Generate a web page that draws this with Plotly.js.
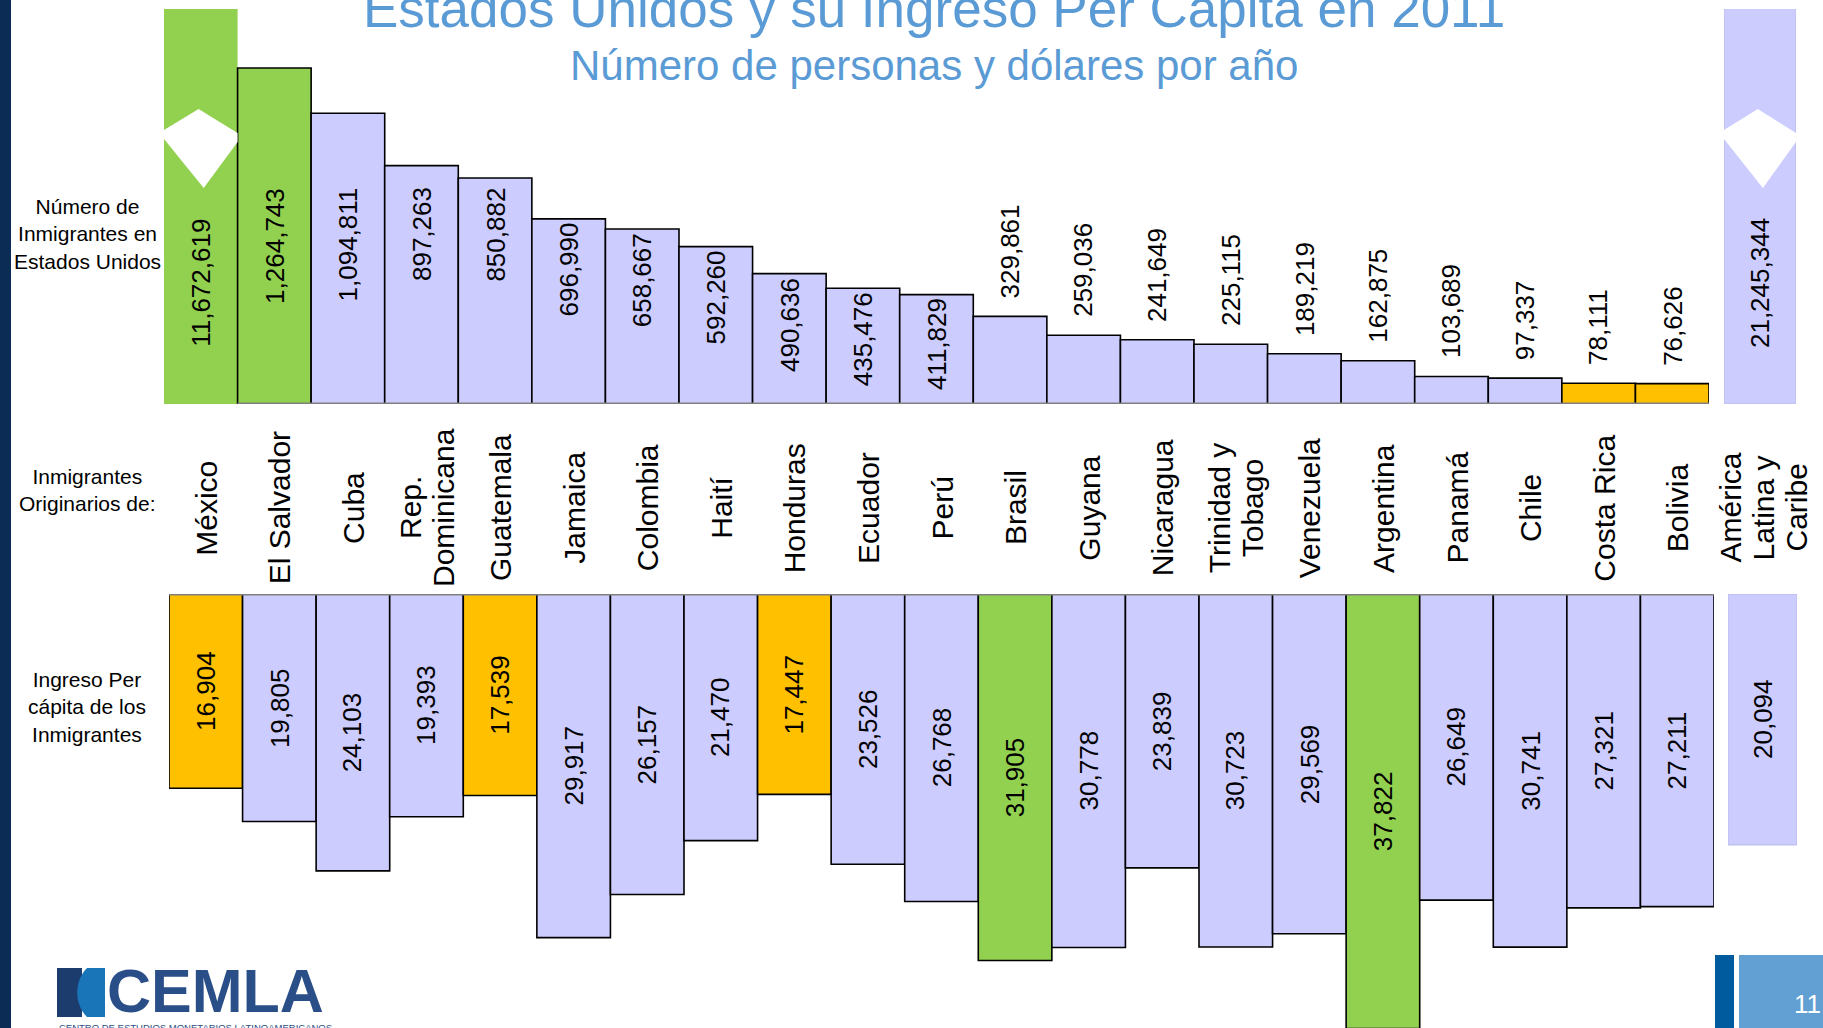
<!DOCTYPE html>
<html>
<head>
<meta charset="utf-8">
<script src="https://cdn.plot.ly/plotly-3.0.1.min.js"></script>
<style>
html,body{margin:0;padding:0;background:#ffffff;}
#chart{width:1823px;height:1028px;}
</style>
</head>
<body>
<div id="chart"></div>
<script>
// ---------------- DATA ----------------
const titleText = 'Estados Unidos y su Ingreso Per Capita en 2011';
const subtitleText = 'Número de personas y dólares por año';
const rowLabels = ['Número de<br>Inmigrantes en<br>Estados Unidos', 'Inmigrantes<br>Originarios de:', 'Ingreso Per<br>cápita de los<br>Inmigrantes'];
const countries = ['México','El Salvador','Cuba','Rep. Dominicana','Guatemala','Jamaica','Colombia','Haití','Honduras','Ecuador','Perú','Brasil','Guyana','Nicaragua','Trinidad y Tobago','Venezuela','Argentina','Panamá','Chile','Costa Rica','Bolivia'];
const countryLabels = ['México','El Salvador','Cuba','Rep.\nDominicana','Guatemala','Jamaica','Colombia','Haití','Honduras','Ecuador','Perú','Brasil','Guyana','Nicaragua','Trinidad y\nTobago','Venezuela','Argentina','Panamá','Chile','Costa Rica','Bolivia'];
const immigrants = [11672619,1264743,1094811,897263,850882,696990,658667,592260,490636,435476,411829,329861,259036,241649,225115,189219,162875,103689,97337,78111,76626];
const incomePerCapita = [16904,19805,24103,19393,17539,29917,26157,21470,17447,23526,26768,31905,30778,23839,30723,29569,37822,26649,30741,27321,27211];
const regionName = 'América Latina y Caribe';
const regionLabel = 'América\nLatina y\nCaribe';
const regionImmigrants = 21245344;
const regionIncome = 20094;
const immigrantGroups = ['g','g','l','l','l','l','l','l','l','l','l','l','l','l','l','l','l','l','l','o','o'];
const incomeGroups = ['o','l','l','l','o','l','l','l','o','l','l','g','l','l','l','l','g','l','l','l','l'];
const pageNumber = '11';
const logoText = 'CEMLA';
const logoSubText = 'CENTRO DE ESTUDIOS MONETARIOS LATINOAMERICANOS';

// ---------------- STYLE / LAYOUT ----------------
const W = 1823, H = 1028;
const px = x => x / W;
const py = y => 1 - y / H;
const FONT = 'Liberation Sans, Arial, Helvetica, sans-serif';
const PALETTE = {g: '#92D050', l: '#CCCCFF', o: '#FFC000'};
const TOP_X = [164, 1709], TOP_Y = [9, 404];
const BOT_X = [169, 1714], BOT_Y = [594, 1028];
const REG_TOP_X = [1724, 1796], REG_BOT_X = [1728, 1797];
const TOP_MAX = 1487000;
const BOT_MAX = 37780;
const REG_BOT_MAX = 34745;
const INSIDE_MIN = 400000, LABEL_CAP = 830000;
const n = countries.length;

const traces = [
  {type: 'bar', x: countries, y: immigrants, xaxis: 'x', yaxis: 'y', width: 1,
   marker: {color: immigrantGroups.map(g => PALETTE[g]),
            line: {color: '#000000', width: countries.map((c, i) => i === 0 ? 0 : 1.6)}},
   hoverinfo: 'skip'},
  {type: 'bar', x: [regionName], y: [regionImmigrants], xaxis: 'x3', yaxis: 'y', width: 1,
   marker: {color: PALETTE.l, line: {color: '#b9b9ee', width: 1}}, hoverinfo: 'skip'},
  {type: 'bar', x: countries, y: incomePerCapita, xaxis: 'x2', yaxis: 'y2', width: 1,
   marker: {color: incomeGroups.map(g => PALETTE[g]), line: {color: '#000000', width: 1.6}},
   hoverinfo: 'skip'},
  {type: 'bar', x: [regionName], y: [regionIncome], xaxis: 'x4', yaxis: 'y4', width: 1,
   marker: {color: PALETTE.l, line: {color: '#b9b9ee', width: 1}}, hoverinfo: 'skip'}
];

const hidden = {visible: false, fixedrange: true, showgrid: false, zeroline: false};
const fmt = v => v.toLocaleString('en-US');
const annotations = [];
const shapes = [];

// title
annotations.push({text: titleText, xref: 'paper', yref: 'paper', x: px(934), y: py(9), xanchor: 'center', yanchor: 'middle',
  showarrow: false, font: {family: FONT, size: 53, color: '#5B9BD5'}});
annotations.push({text: subtitleText, xref: 'paper', yref: 'paper', x: px(934), y: py(65), xanchor: 'center', yanchor: 'middle',
  showarrow: false, font: {family: FONT, size: 42, color: '#5B9BD5'}});

// row labels
[234, 490, 707].forEach((yc, i) => {
  annotations.push({text: rowLabels[i], xref: 'paper', yref: 'paper', x: px(87), y: py(yc), xanchor: 'center', yanchor: 'middle',
    showarrow: false, align: 'center', font: {family: FONT, size: 21, color: '#000000'}});
});

// break marks (for values beyond axis)
const BREAK = [[0,130],[0.47,109],[1,133],[1,142],[0.54,188],[0,139]];
function breakPath(x0, x1) {
  return BREAK.map((p, k) => (k ? 'L' : 'M') + px(x0 + p[0] * (x1 - x0)).toFixed(5) + ',' + py(p[1]).toFixed(5)).join(' ') + ' Z';
}
const brokenLabelY = 188 + 0.44 * (TOP_Y[1] - 188);
const barW = (TOP_X[1] - TOP_X[0]) / n;

// top value labels
immigrants.forEach((v, i) => {
  const base = {text: fmt(v), xref: 'x', x: countries[i], showarrow: false, textangle: -90,
    font: {family: FONT, size: 26, color: '#000000'}, xanchor: 'center'};
  if (v > TOP_MAX) {
    annotations.push(Object.assign(base, {yref: 'paper', y: py(brokenLabelY), yanchor: 'middle'}));
    shapes.push({type: 'path', xref: 'paper', yref: 'paper', path: breakPath(TOP_X[0] + i * barW, TOP_X[0] + (i + 1) * barW),
      fillcolor: '#ffffff', line: {width: 0}, layer: 'above'});
  } else if (v >= INSIDE_MIN) {
    annotations.push(Object.assign(base, {yref: 'y', y: Math.min(v, LABEL_CAP), yanchor: 'top', yshift: -2}));
  } else {
    annotations.push(Object.assign(base, {yref: 'y', y: v, yanchor: 'bottom', yshift: 16}));
  }
});
// region top label
annotations.push({text: fmt(regionImmigrants), xref: 'x3', x: regionName, yref: 'paper', y: py(brokenLabelY), yanchor: 'middle',
  xanchor: 'center', showarrow: false, textangle: -90, font: {family: FONT, size: 26, color: '#000000'}});
if (regionImmigrants > TOP_MAX) {
  shapes.push({type: 'path', xref: 'paper', yref: 'paper', path: breakPath(REG_TOP_X[0], REG_TOP_X[1]),
    fillcolor: '#ffffff', line: {width: 0}, layer: 'above'});
}

// bottom value labels
incomePerCapita.forEach((v, i) => {
  annotations.push({text: fmt(v), xref: 'x2', x: countries[i], yref: 'y2', y: v / 2, xanchor: 'center', yanchor: 'middle',
    showarrow: false, textangle: -90, font: {family: FONT, size: 26, color: '#000000'}});
});
annotations.push({text: fmt(regionIncome), xref: 'x4', x: regionName, yref: 'y4', y: regionIncome / 2, xanchor: 'center', yanchor: 'middle',
  showarrow: false, textangle: -90, font: {family: FONT, size: 26, color: '#000000'}});

// country labels
function addCountryLabel(label, xref, xval) {
  const lines = label.split('\n');
  lines.forEach((ln, j) => {
    annotations.push({text: ln, xref: xref, x: xval, yref: 'paper', y: py(508), xanchor: 'center', yanchor: 'middle',
      xshift: (j - (lines.length - 1) / 2) * 33, showarrow: false, textangle: -90,
      font: {family: FONT, size: 30, color: '#000000'}});
  });
}
countries.forEach((c, i) => addCountryLabel(countryLabels[i], 'x2', c));
addCountryLabel(regionLabel, 'x4', regionName);

// gray axis lines
shapes.push({type: 'line', xref: 'paper', yref: 'y', x0: px(TOP_X[0] + barW), x1: px(TOP_X[1]), y0: 0, y1: 0,
  line: {color: '#808080', width: 3}, layer: 'above'});
shapes.push({type: 'line', xref: 'paper', yref: 'y2', x0: px(BOT_X[0]), x1: px(BOT_X[1]), y0: 0, y1: 0,
  line: {color: '#808080', width: 3}, layer: 'above'});

// left navy stripe
shapes.push({type: 'rect', xref: 'paper', yref: 'paper', x0: 0, x1: px(11), y0: 0, y1: 1, fillcolor: '#0b2c54', line: {width: 0}, layer: 'below'});
// footer page number boxes
shapes.push({type: 'rect', xref: 'paper', yref: 'paper', x0: px(1715), x1: px(1734), y0: 0, y1: py(955), fillcolor: '#005A9E', line: {width: 0}});
shapes.push({type: 'rect', xref: 'paper', yref: 'paper', x0: px(1739), x1: 1, y0: 0, y1: py(955), fillcolor: '#629FD3', line: {width: 0}});
annotations.push({text: pageNumber, xref: 'paper', yref: 'paper', x: px(1807), y: py(1004), xanchor: 'center', yanchor: 'middle',
  showarrow: false, font: {family: FONT, size: 26, color: '#ffffff'}});
// logo
shapes.push({type: 'rect', xref: 'paper', yref: 'paper', x0: px(57), x1: px(82), y0: py(1017), y1: py(968), fillcolor: '#1d3c6e', line: {width: 0}});
shapes.push({type: 'path', xref: 'paper', yref: 'paper',
  path: 'M' + px(87) + ',' + py(968) + ' L' + px(105) + ',' + py(968) + ' L' + px(105) + ',' + py(1017) + ' L' + px(87) + ',' + py(1017) +
        ' C' + px(74) + ',' + py(1004) + ' ' + px(74) + ',' + py(981) + ' ' + px(87) + ',' + py(968) + ' Z',
  fillcolor: '#1a74b8', line: {width: 0}});
annotations.push({text: '<b>' + logoText + '</b>', xref: 'paper', yref: 'paper', x: px(105), y: py(991), xanchor: 'left', yanchor: 'middle',
  showarrow: false, font: {family: FONT, size: 61, color: '#2a4f88'}});
annotations.push({text: logoSubText, xref: 'paper', yref: 'paper', x: px(57), y: py(1027), xanchor: 'left', yanchor: 'middle',
  showarrow: false, font: {family: FONT, size: 9.5, color: '#2a4f88'}});

const layout = {
  width: W, height: H,
  margin: {l: 0, r: 0, t: 0, b: 0, pad: 0},
  paper_bgcolor: '#ffffff', plot_bgcolor: 'rgba(0,0,0,0)',
  showlegend: false, bargap: 0, barmode: 'overlay',
  xaxis: Object.assign({}, hidden, {type: 'category', domain: [px(TOP_X[0]), px(TOP_X[1])], range: [-0.5, n - 0.5], anchor: 'y'}),
  yaxis: Object.assign({}, hidden, {domain: [py(TOP_Y[1]), py(TOP_Y[0])], range: [0, TOP_MAX], anchor: 'x'}),
  xaxis2: Object.assign({}, hidden, {type: 'category', domain: [px(BOT_X[0]), px(BOT_X[1])], range: [-0.5, n - 0.5], anchor: 'y2'}),
  yaxis2: Object.assign({}, hidden, {domain: [py(BOT_Y[1]), py(BOT_Y[0])], range: [BOT_MAX, 0], anchor: 'x2'}),
  xaxis3: Object.assign({}, hidden, {type: 'category', domain: [px(REG_TOP_X[0]), px(REG_TOP_X[1])], range: [-0.5, 0.5], anchor: 'y'}),
  xaxis4: Object.assign({}, hidden, {type: 'category', domain: [px(REG_BOT_X[0]), px(REG_BOT_X[1])], range: [-0.5, 0.5], anchor: 'y4'}),
  yaxis4: Object.assign({}, hidden, {domain: [py(BOT_Y[1]), py(BOT_Y[0])], range: [REG_BOT_MAX, 0], anchor: 'x4'}),
  annotations: annotations,
  shapes: shapes
};

Plotly.newPlot('chart', traces, layout, {staticPlot: true, displayModeBar: false});
</script>
</body>
</html>
